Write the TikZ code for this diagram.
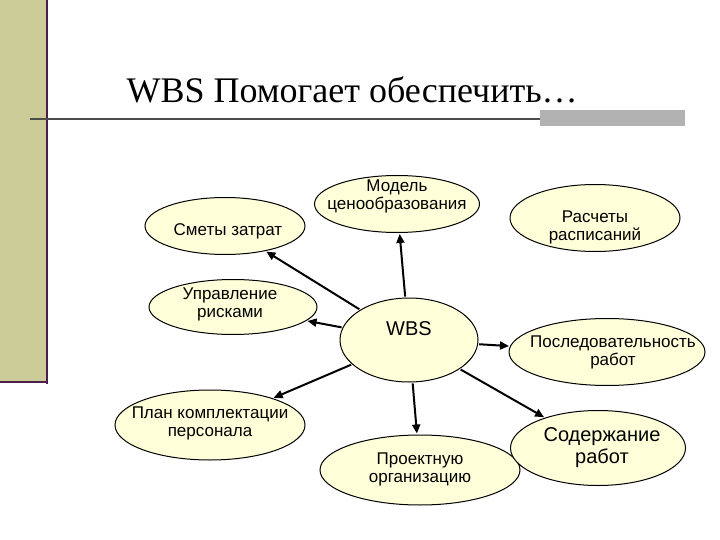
\documentclass[tikz,border=0pt]{standalone}
\usepackage{fontspec}
\setmainfont{Liberation Sans}
\newfontfamily\titlefont{Liberation Serif}
\usetikzlibrary{arrows.meta,shapes.geometric}
\definecolor{olivebar}{HTML}{CCCC99}
\definecolor{purp}{HTML}{4B1E4B}
\definecolor{ell}{HTML}{FFFFD9}
\begin{document}
\begin{tikzpicture}[x=1pt,y=-1pt,
  bub/.style={ellipse,draw=black,line width=1pt,fill=ell,inner sep=0pt},
  lbl/.style={align=center,inner sep=0pt,font=\fontsize{17}{18}\selectfont},
  arr/.style={line width=2pt,-{Triangle[length=9pt,width=8pt]},shorten <=1pt,shorten >=1pt}]
\useasboundingbox (0,0) rectangle (720,540);
\fill[white] (0,0) rectangle (720,540);
\fill[olivebar] (0,0) rectangle (46,383);
\draw[purp,line width=2.5pt] (47,0) -- (47,384);
\draw[purp,line width=2.5pt] (0,382) -- (47,382);
\draw[black!70,line width=1.2pt] (30,119) -- (540,119);
\fill[black!30] (540,110) rectangle (685,126);
\node[anchor=west,font=\titlefont\fontsize{36}{38}\selectfont] (title) at (123,90) {WBS Помогает обеспечить…};
\node[bub,minimum width=160pt,minimum height=57pt] (smety) at (225,226) {};
\node[lbl] (t1) at (228,231) {Сметы затрат};
\node[bub,minimum width=165pt,minimum height=57pt] (model) at (397,204) {};
\node[lbl] (t2) at (397,196) {Модель\\ценообразования};
\node[bub,minimum width=170pt,minimum height=67pt] (rasch) at (595,218) {};
\node[lbl] (t3) at (595,227) {Расчеты\\расписаний};
\node[bub,minimum width=168pt,minimum height=55pt] (risk) at (233,307) {};
\node[lbl] (t4) at (230,304) {Управление\\рисками};
\node[bub,minimum width=138pt,minimum height=84pt] (wbs) at (409,340) {};
\node[lbl,font=\fontsize{20}{22}\selectfont] (t5) at (409,329) {WBS};
\node[bub,minimum width=196pt,minimum height=67pt] (posl) at (607,352) {};
\node[lbl] (t6) at (613,352) {Последовательность\\работ};
\node[bub,minimum width=190pt,minimum height=70pt] (plan) at (210,425) {};
\node[lbl] (t7) at (210,423) {План комплектации\\персонала};
\node[bub,minimum width=200pt,minimum height=70pt] (proj) at (420,470) {};
\node[lbl] (t8) at (420,469) {Проектную\\организацию};
\node[bub,minimum width=175pt,minimum height=75pt] (sod) at (598,448) {};
\node[lbl,font=\fontsize{20}{22}\selectfont] (t9) at (602,448) {Содержание\\работ};
\draw[arr] (wbs) -- (smety);
\draw[arr] (wbs) -- (model);
\draw[arr] (wbs) -- (risk);
\draw[arr] (wbs) -- (plan);
\draw[arr] (wbs) -- (proj);
\draw[arr] (wbs) -- (sod);
\draw[arr] (wbs) -- (posl);
\end{tikzpicture}
\end{document}
